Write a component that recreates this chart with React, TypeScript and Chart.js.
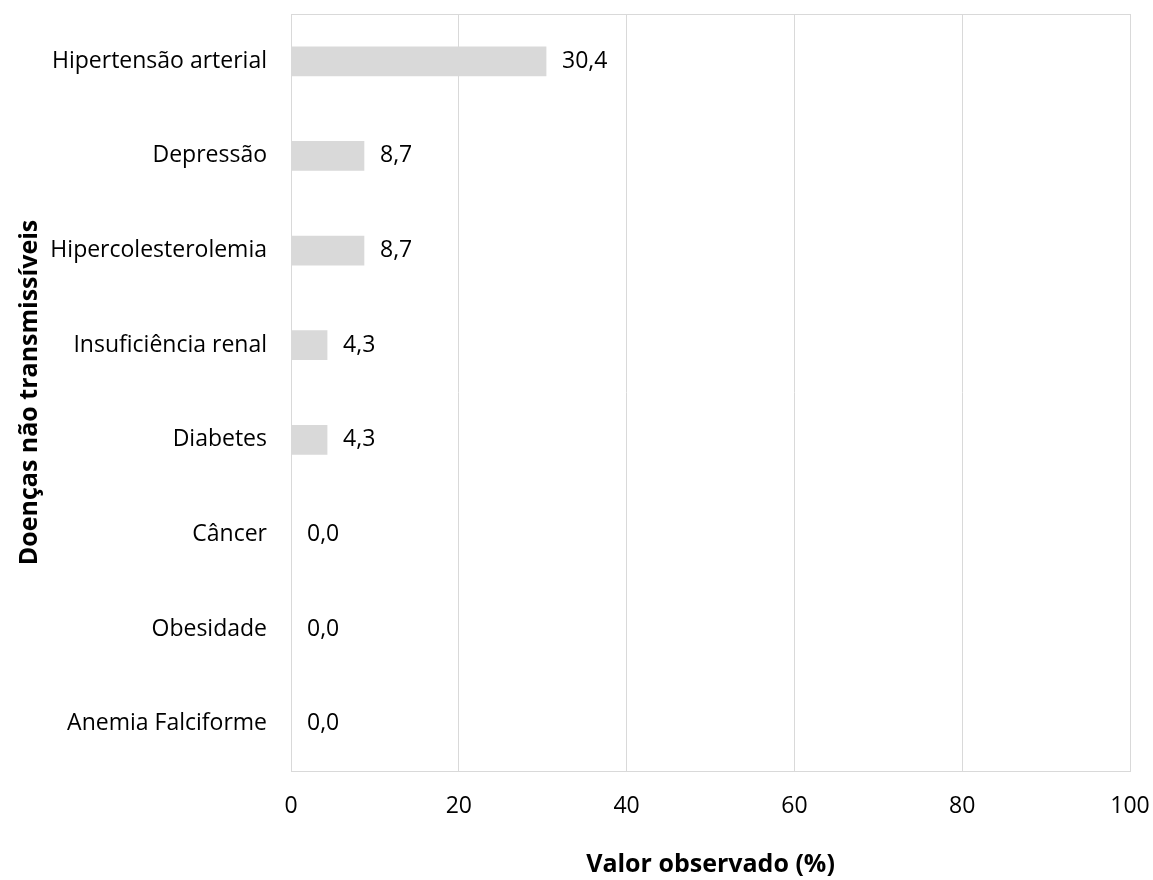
import React, { useEffect, useRef } from "react";
import { Chart, registerables } from "chart.js";

Chart.register(...registerables);

const categories = [
  "Hipertensão arterial",
  "Depressão",
  "Hipercolesterolemia",
  "Insuficiência renal",
  "Diabetes",
  "Câncer",
  "Obesidade",
  "Anemia Falciforme",
];
const values = [30.4, 8.7, 8.7, 4.3, 4.3, 0.0, 0.0, 0.0];
const xTicks = [0, 20, 40, 60, 80, 100];
const xTitle = "Valor observado (%)";
const yTitle = "Doenças não transmissíveis";

const FONT = "'Open Sans', sans-serif";
const FS = 23;
const TFS = 25;

export default function App() {
  const ref = useRef<HTMLCanvasElement>(null);
  useEffect(() => {
    document.body.style.margin = "0";
    const borderPlugin = {
      id: "borderBox",
      afterDraw(chart: any) {
        const { ctx, chartArea } = chart;
        ctx.save();
        ctx.strokeStyle = "#d9d9d9";
        ctx.lineWidth = 1;
        ctx.strokeRect(
          Math.round(chartArea.left) + 0.5,
          Math.round(chartArea.top) + 0.5,
          Math.round(chartArea.right - chartArea.left),
          Math.round(chartArea.bottom - chartArea.top)
        );
        ctx.restore();
      },
    };
    const labelPlugin = {
      id: "valueLabels",
      afterDatasetsDraw(chart: any) {
        const { ctx } = chart;
        const meta = chart.getDatasetMeta(0);
        ctx.save();
        ctx.font = `${FS}px ${FONT}`;
        ctx.fillStyle = "#000";
        ctx.textBaseline = "middle";
        ctx.textAlign = "left";
        meta.data.forEach((el: any, i: number) => {
          const txt = values[i].toFixed(1).replace(".", ",");
          ctx.fillText(txt, el.x + 16, el.y);
        });
        ctx.restore();
      },
    };
    const chart = new Chart(ref.current!, {
      type: "bar",
      data: {
        labels: categories,
        datasets: [
          {
            data: values,
            backgroundColor: "#d9d9d9",
            borderWidth: 0,
            barThickness: 29,
          },
        ],
      },
      options: {
        indexAxis: "y",
        animation: false,
        responsive: false,
        maintainAspectRatio: false,
        layout: { padding: { left: 0, right: 23, top: 14, bottom: 0 } },
        plugins: { legend: { display: false }, tooltip: { enabled: false } },
        scales: {
          x: {
            min: 0,
            max: 100,
            afterBuildTicks(scale: any) {
              scale.ticks = xTicks.map((v) => ({ value: v }));
            },
            afterFit(scale: any) {
              scale.height = 880 - 771;
              scale.paddingLeft = 0;
              scale.paddingRight = 0;
              scale.paddingTop = 0;
              scale.paddingBottom = 0;
            },
            grid: { color: "#d9d9d9", drawTicks: false },
            border: { display: true, color: "#d9d9d9" },
            ticks: {
              padding: 22,
              color: "#000",
              font: { family: FONT, size: FS },
            },
            title: {
              display: true,
              text: xTitle,
              color: "#000",
              font: { family: FONT, size: TFS, weight: "bold" },
              padding: { top: 0, bottom: 0 },
            },
          },
          y: {
            afterFit(scale: any) {
              scale.width = 291;
              scale.paddingLeft = 0;
              scale.paddingRight = 0;
              scale.paddingTop = 0;
              scale.paddingBottom = 0;
            },
            grid: { display: false, drawTicks: false },
            border: { display: true, color: "#d9d9d9" },
            ticks: {
              padding: 24,
              color: "#000",
              font: { family: FONT, size: FS },
            },
            title: {
              display: true,
              text: yTitle,
              color: "#000",
              font: { family: FONT, size: TFS, weight: "bold" },
              padding: { top: 15, bottom: 0 },
            },
          },
        },
      },
      plugins: [borderPlugin, labelPlugin],
    });
    return () => chart.destroy();
  }, []);
  return <canvas ref={ref} width={1153} height={880} style={{ display: "block" }} />;
}
